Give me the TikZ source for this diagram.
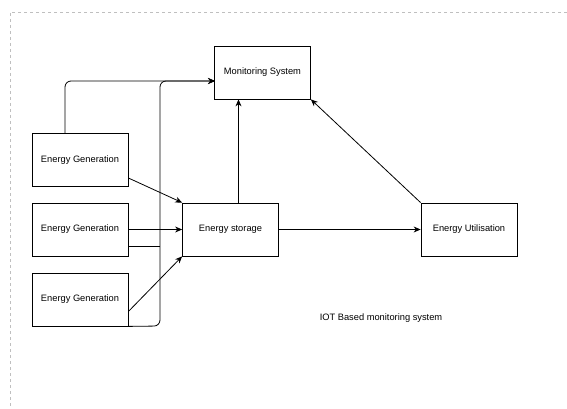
\documentclass[tikz,border=0pt]{standalone}
\usepackage{fontspec}
\setmainfont{Liberation Sans}
\usetikzlibrary{arrows.meta}
\tikzset{
  blk/.style={draw,line width=0.8pt,minimum width=96pt,minimum height=53pt,inner sep=0pt,
    font=\fontsize{9.3}{11}\selectfont},
  lnk/.style={line width=0.8pt},
}
\begin{document}
\begin{tikzpicture}[x=1pt,y=-1pt,>={Stealth[length=7pt,width=6pt]}]
\useasboundingbox (0,0) rectangle (567,409);
\draw[black!25,dashed,line width=0.6pt] (567,12) -- (10,12) -- (10,409);

\node[blk] (mon) at (262.5,72.5) {Monitoring System};
\node[blk] (gen1) at (80,160) {Energy Generation};
\node[blk] (gen2) at (80,229.5) {Energy Generation};
\node[blk] (gen3) at (80,299.5) {Energy Generation};
\node[blk] (sto) at (230.5,229.5) {Energy storage};
\node[blk] (use) at (469,229.5) {Energy Utilisation};
\node[font=\fontsize{9.3}{11}\selectfont] (cap) at (381,318) {IOT Based monitoring system};

\coordinate (monin) at (215,81);
\coordinate (bus) at (160,326);
\coordinate (tap) at ([yshift=-17pt]gen2.east);

% feeds to the monitoring system
\draw[lnk,->,rounded corners=6pt] ([xshift=-15pt]gen1.north) |- (monin);
\draw[lnk,->,rounded corners=6pt] (gen3.south east) -- (bus) |- (monin);
\draw[lnk] (tap) -- (bus |- tap);

% feeds to the storage
\draw[lnk,->] ([yshift=-18pt]gen1.east) -- (sto.north west);
\draw[lnk,->] (gen2) -- (sto);
\draw[lnk,->] ([yshift=-12pt]gen3.east) -- (sto.south west);

\draw[lnk,->] ([xshift=8pt]sto.north) -- ([xshift=8pt]sto.north |- mon.south);
\draw[lnk,->] (sto) -- (use);
\draw[lnk,->] (use.north west) -- (mon.south east);
\end{tikzpicture}
\end{document}
